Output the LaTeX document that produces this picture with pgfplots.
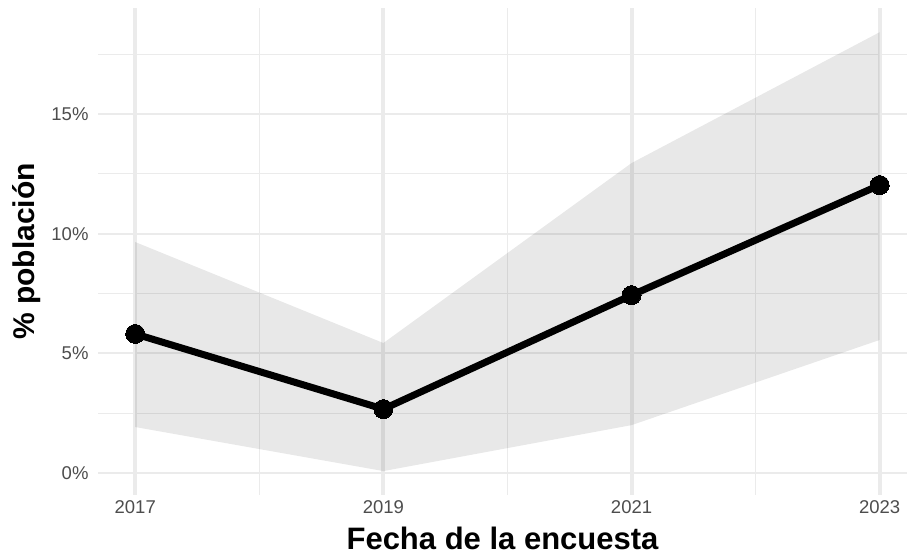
\documentclass[border=0pt]{standalone}
\usepackage{pgfplots}
\pgfplotsset{compat=1.18}
\usepackage{fontspec}
\setmainfont{Liberation Sans}
\definecolor{gridc}{RGB}{235,235,235}
\definecolor{tickc}{RGB}{77,77,77}
\begin{document}
\begin{tikzpicture}
\useasboundingbox (0,0) rectangle (907pt,554pt);
\begin{axis}[
  at={(98pt,59pt)}, anchor=south west,
  width=809pt, height=487pt, scale only axis,
  xmin=2016.70, xmax=2023.22,
  ymin=-0.92, ymax=19.43,
  axis line style={draw=none},
  tick style={draw=none},
  xtick={2017,2019,2021,2023},
  minor xtick={2018,2020,2022},
  ytick={0,5,10,15},
  minor ytick={2.5,7.5,12.5,17.5},
  grid=both,
  major x grid style={gridc, line width=4pt},
  major y grid style={gridc, line width=2.2pt},
  minor grid style={gridc, line width=1.1pt},
  /pgf/number format/assume math mode=true,
  /pgf/number format/1000 sep={},
  xticklabel style={font=\fontsize{18.5}{20}\selectfont, text=tickc, yshift=-2pt},
  yticklabel style={font=\fontsize{18.5}{20}\selectfont, text=tickc, xshift=-6pt},
  yticklabel={\pgfmathprintnumber{\tick}\%},
  xlabel={Fecha de la encuesta},
  ylabel={\% población},
  xlabel style={font=\fontsize{31}{34}\selectfont\bfseries, at={(axis description cs:0.5,0)}, anchor=center, yshift=-43pt},
  ylabel style={font=\fontsize{30}{34}\selectfont\bfseries, at={(axis description cs:-0.0878,0.5)}, anchor=center},
  clip=false,
]
\addplot[fill=black, fill opacity=0.09, draw=none] coordinates {
 (2017,9.65) (2019,5.43) (2021,12.95) (2023,18.42)
 (2023,5.56) (2021,2.0) (2019,0.08) (2017,1.92)
} -- cycle;
\addplot[black, line width=7pt, mark=*, mark size=9.5pt, mark options={solid, line width=0pt}] coordinates {
 (2017,5.81) (2019,2.67) (2021,7.43) (2023,12.03)
};
\end{axis}
\end{tikzpicture}
\end{document}
